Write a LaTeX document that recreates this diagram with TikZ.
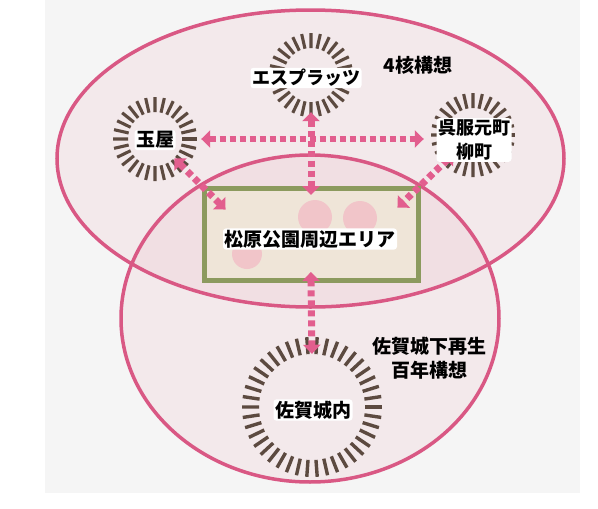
\documentclass[tikz,border=0pt]{standalone}
\usepackage{fontspec}
\setmainfont{Noto Sans CJK JP}
\usetikzlibrary{positioning, arrows.meta}

\definecolor{panelgray}{HTML}{F5F5F5}
\definecolor{ringpink}{HTML}{D95884}
\definecolor{zonepink}{HTML}{E8A8B6}
\definecolor{linkpink}{HTML}{E25E8E}
\definecolor{tickbrown}{HTML}{5C4A40}
\definecolor{areagreen}{HTML}{8C9A5E}
\definecolor{areafill}{HTML}{EFE5D8}
\definecolor{blossom}{HTML}{F2B8C4}

\begin{document}
\begin{tikzpicture}[x=1pt, y=-1pt,
            nodes={inner sep=0pt, align=center, font=\fontsize{19}{24}\selectfont\bfseries},
            halo/.style={fill=white, inner sep=1.5pt, rounded corners=3pt},
            core/.style={circle, minimum size=54pt},
            bigcore/.style={circle, minimum size=106pt},
            link/.style={draw=linkpink, line width=7pt, dash pattern=on 6pt off 4pt,
                {Triangle[width=17pt,length=9pt]}-{Triangle[width=17pt,length=9pt]}},
            tick/.style={draw=tickbrown, line width=3.1pt}]
    \useasboundingbox (0,0) rectangle (598,509);
    \fill[white] (0,0) rectangle (598,509);
    \fill[panelgray] (45,0) rectangle (580,493);

    % Zones
    \fill[zonepink, opacity=0.15] (310.5,158.5) ellipse[x radius=253.5, y radius=148.5];
    \fill[zonepink, opacity=0.15] (310,318.5) ellipse[x radius=189, y radius=163.5];
    \draw[ringpink, line width=3.5pt] (310.5,158.5) ellipse[x radius=253.5, y radius=148.5];
    \draw[ringpink, line width=3.5pt] (310,318.5) ellipse[x radius=189, y radius=163.5];

    % Nodes
    \node[draw=areagreen, fill=areafill, line width=5pt, minimum width=214pt, minimum height=92pt] (area) at (311,234) {};
    \fill[blossom, opacity=0.7] (315,217) circle[radius=17];
    \fill[blossom, opacity=0.7] (360,218) circle[radius=17];
    \fill[blossom, opacity=0.7] (247,254) circle[radius=15];
    \node[core] (esp) at (311,75) {};
    \node[core] (tamaya) at (155,139) {};
    \node[core] (gofuku) at (473,135) {};
    \node[bigcore] (jyonai) at (312,407) {};

    % Bursts
    \foreach \core in {esp, tamaya, gofuku}
        \foreach \a in {0,12.857,...,350}
            \draw[tick] (\core) ++(\a:27) -- ++(\a:15);
    \foreach \a in {0,8.571,...,355}
        \draw[tick, line width=3.4pt] (jyonai) ++(\a:53) -- ++(\a:17);

    % Edges
    \draw[link, line width=6pt, shorten <=19pt, shorten >=22pt] (tamaya.east) -- (tamaya.east -| gofuku.west);
    \draw[link, shorten <=10pt, shorten >=-9.5pt] (esp.south) -- (area.north);
    \draw[link, shorten >=-34pt] (tamaya) -- (area.north west);
    \draw[link, shorten >=-32pt] (gofuku) -- (area.north east);
    \draw[link, shorten <=-10.5pt] (area.south) -- (jyonai.north);

    % Labels
    \node[halo, font=\fontsize{18}{24}\selectfont\bfseries] (esp-text) at (306,78) {エスプラッツ};
    \node[halo] (tamaya-text) at (155,140) {玉屋};
    \node[halo, font=\fontsize{18}{24}\selectfont\bfseries] (gofuku-text) at (474,140) {呉服元町\\柳町};
    \node[halo] (jyonai-text) at (313,410) {佐賀城内};
    \node[halo] (area-text) at (310,239) {松原公園周辺エリア};
    \node (four-text) at (418,65) {4核構想};
    \node (saga-text) at (429,358) {佐賀城下再生\\百年構想};
\end{tikzpicture}
\end{document}
